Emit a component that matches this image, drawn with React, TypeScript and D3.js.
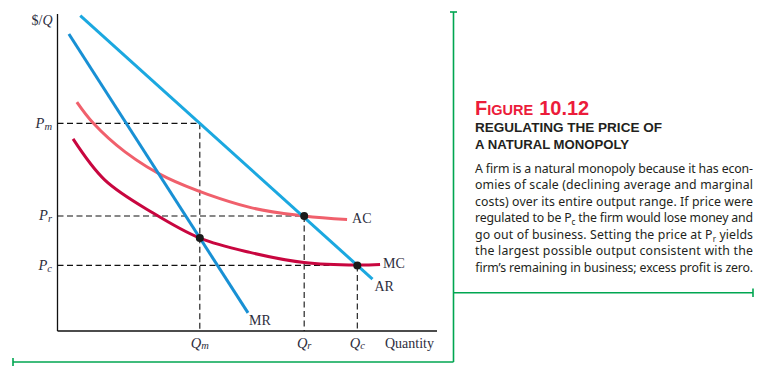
import React from 'react';
import * as d3 from 'd3';

// curve points (quantity, $/Q), both axes 0-100
const arPoints = [
  { q: 6, p: 99.5 },
  { q: 83, p: 16.4 },
];
const mrPoints = [
  { q: 3, p: 93.7 },
  { q: 50.2, p: 5.7 },
];
const acPoints = [
  { q: 5.1, p: 72.2 },
  { q: 9.4, p: 65.6 },
  { q: 17.8, p: 56.5 },
  { q: 28.9, p: 48.3 },
  { q: 50.7, p: 39 },
  { q: 65, p: 36.3 },
  { q: 76.3, p: 35.2 },
];
const mcPoints = [
  { q: 4.1, p: 60.6 },
  { q: 12.5, p: 47.6 },
  { q: 25.2, p: 37.2 },
  { q: 37.5, p: 29.3 },
  { q: 50.7, p: 24.8 },
  { q: 65, p: 21.6 },
  { q: 79, p: 20.8 },
  { q: 85, p: 21 },
];

// price / quantity levels (subscript m, r, c)
const levels = [
  { sub: 'm', q: 37.5, p: 65.5 },
  { sub: 'r', q: 65, p: 36.3 },
  { sub: 'c', q: 79, p: 20.7 },
];
const dots = [
  { q: 37.5, p: 29.3 },
  { q: 65, p: 36.3 },
  { q: 79, p: 20.7 },
];

const bodyLines = [
  ['A firm is a natural monopoly because it has econ-'],
  ['omies of scale (declining average and marginal'],
  ['costs) over its entire output range. If price were'],
  ['regulated to be P', 'c', ' the firm would lose money and'],
  ['go out of business. Setting the price at P', 'r', ' yields'],
  ['the largest possible output consistent with the'],
  ['firm\u2019s remaining in business; excess profit is zero.'],
];

const GREEN = '#00a651';
const LABEL = '#2d2d3d';
const serif = '"Liberation Serif", "DejaVu Serif", serif';
const sans = '"Noto Sans", "Open Sans", sans-serif';
const head = '"Liberation Sans", Arial, sans-serif';

export default function App() {
  const x = d3.scaleLinear().domain([0, 100]).range([57.5, 437]);
  const y = d3.scaleLinear().domain([0, 100]).range([331, 14]);

  const straight = d3.line<{ q: number; p: number }>()
    .x(d => x(d.q))
    .y(d => y(d.p));
  const smooth = d3.line<{ q: number; p: number }>()
    .x(d => x(d.q))
    .y(d => y(d.p))
    .curve(d3.curveCatmullRom.alpha(0.5));

  const last = (a: { q: number; p: number }[]) => a[a.length - 1];

  return (
    <svg width={767} height={375} style={{ position: 'absolute', left: 0, top: 0, background: '#fff' }}>
      {/* green frame rules */}
      <g stroke={GREEN} strokeWidth={1.6} fill="none">
        <line x1={453.5} y1={12} x2={453.5} y2={362} />
        <line x1={450} y1={12} x2={457} y2={12} />
        <line x1={13} y1={362} x2={453.5} y2={362} />
        <line x1={13} y1={358} x2={13} y2={366} />
        <line x1={453.5} y1={292.7} x2={753} y2={292.7} />
        <line x1={753} y1={288.5} x2={753} y2={297} />
      </g>

      {/* dashed guides */}
      <g stroke="#111" strokeWidth={1.1} strokeDasharray="6,3.5" fill="none">
        {levels.map(l => (
          <g key={l.sub}>
            <line x1={x(0)} y1={y(l.p)} x2={x(l.q)} y2={y(l.p)} />
            <line x1={x(l.q)} y1={y(l.p)} x2={x(l.q)} y2={y(0)} />
          </g>
        ))}
      </g>

      {/* axes */}
      <g stroke="#111" strokeWidth={1.3}>
        <line x1={x(0)} y1={y(100)} x2={x(0)} y2={y(0)} />
        <line x1={x(0)} y1={y(0)} x2={x(100)} y2={y(0)} />
      </g>

      {/* curves */}
      <path d={smooth(acPoints) ?? ''} fill="none" stroke="#f0606c" strokeWidth={3} />
      <path d={smooth(mcPoints) ?? ''} fill="none" stroke="#c8063f" strokeWidth={3} />
      <path d={straight(mrPoints) ?? ''} fill="none" stroke="#1890d4" strokeWidth={3} />
      <path d={straight(arPoints) ?? ''} fill="none" stroke="#1ba8e0" strokeWidth={3} />

      {dots.map((d, i) => (
        <circle key={i} cx={x(d.q)} cy={y(d.p)} r={4} fill="#1a1a1a" />
      ))}

      {/* axis labels */}
      <g fill={LABEL} fontFamily={serif}>
        <text x={x(0) - 5} y={y(100) + 11} fontSize={14} textAnchor="end">
          $/<tspan fontStyle="italic">Q</tspan>
        </text>
        {levels.map(l => (
          <text key={'p' + l.sub} x={x(0) - 5.5} y={y(l.p) + 4.5} fontSize={14.5} fontStyle="italic" textAnchor="end">
            P<tspan fontSize={10.5} dy={2}>{l.sub}</tspan>
          </text>
        ))}
        {levels.map(l => (
          <text key={'q' + l.sub} x={x(l.q)} y={y(0) + 16.5} fontSize={14.5} fontStyle="italic" textAnchor="middle">
            Q<tspan fontSize={10.5} dy={1}>{l.sub}</tspan>
          </text>
        ))}
        <text x={385} y={y(0) + 16.5} fontSize={14}>Quantity</text>
        <text x={x(last(acPoints).q) + 5} y={y(last(acPoints).p) + 3.5} fontSize={14}>AC</text>
        <text x={x(last(mcPoints).q) + 3} y={y(last(mcPoints).p) + 3.5} fontSize={14}>MC</text>
        <text x={x(last(arPoints).q) + 2} y={y(last(arPoints).p) + 12} fontSize={14}>AR</text>
        <text x={x(last(mrPoints).q) + 1} y={y(last(mrPoints).p) + 12} fontSize={14}>MR</text>
      </g>

      {/* caption */}
      <text x={475} y={114.5} fill="#ec1c3a" fontFamily={head} fontWeight={700}>
        <tspan fontSize={20}>F</tspan>
        <tspan fontSize={14.5}>IGURE</tspan>
        <tspan fontSize={20} dx={6}>10.12</tspan>
      </text>
      <text x={475} y={131.7} fill="#231f20" fontFamily={head} fontWeight={700} fontSize={13.5} textLength={187} lengthAdjust="spacingAndGlyphs">
        REGULATING THE PRICE OF
      </text>
      <text x={475} y={149.3} fill="#231f20" fontFamily={head} fontWeight={700} fontSize={13.5} textLength={154} lengthAdjust="spacingAndGlyphs">
        A NATURAL MONOPOLY
      </text>
      <g fill="#231f20" fontFamily={sans} fontSize={12.3}>
        {bodyLines.map((ln, i) => (
          <text key={i} x={475} y={172.5 + i * 16.5} textLength={278} lengthAdjust="spacing">
            {ln.length === 1 ? ln[0] : (
              <>
                {ln[0]}
                <tspan fontSize={8} dy={3}>{ln[1]}</tspan>
                <tspan dy={-3}>{ln[2]}</tspan>
              </>
            )}
          </text>
        ))}
      </g>
    </svg>
  );
}
